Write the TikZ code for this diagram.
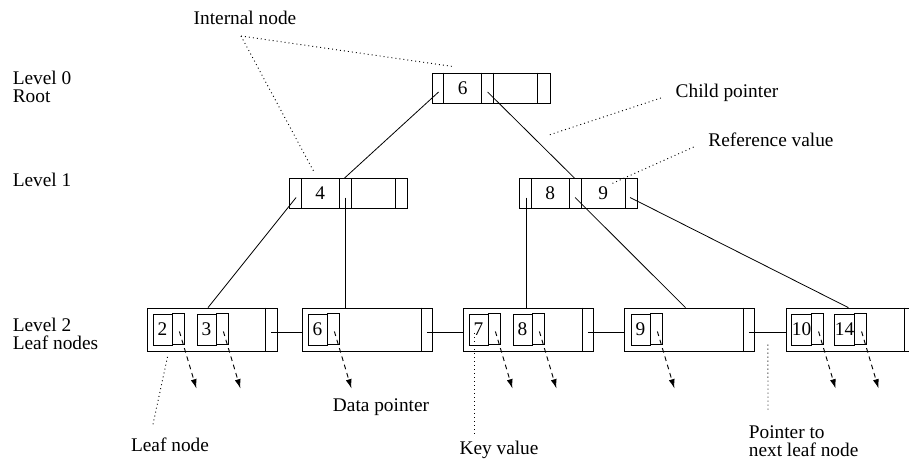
\documentclass[tikz,border=0pt]{standalone}
\usepackage{fontspec}
\setmainfont{Liberation Serif}
\usetikzlibrary{arrows.meta,calc}
\tikzset{
  inbox/.style={draw,minimum width=88.5pt,minimum height=22.5pt,inner sep=0pt},
  leafbox/.style={draw,minimum width=97.5pt,minimum height=32.25pt,inner sep=0pt},
  keybox/.style={draw,minimum width=14.25pt,minimum height=23.25pt,inner sep=0pt},
  note/.style={line width=0.7pt,dash pattern=on 0.7pt off 2.3pt},
  datap/.style={line width=0.7pt,dash pattern=on 3.5pt off 3pt,-{Latex[length=7pt,width=4.5pt]}}
}
\begin{document}
\begin{tikzpicture}[x=0.75pt,y=-0.75pt,line width=0.6pt,every node/.style={font=\fontsize{14.5}{13.5}\selectfont}]
  \useasboundingbox (0,0) rectangle (909,461);

  % level labels
  \node[anchor=west,align=left] (lev0) at (8,87) {Level 0\\Root};
  \node[anchor=west] (lev1) at (8,180) {Level 1};
  \node[anchor=west,align=left] (lev2) at (8,334) {Level 2\\Leaf nodes};

  % internal nodes
  \node[inbox] (root) at (491,88) {};
  \node[inbox] (n4) at (348.5,193.5) {};
  \node[inbox] (n89) at (578.5,193.5) {};
  \foreach \n in {root,n4,n89}{
    \foreach \d in {12,50,62,106}
      \draw ($(\n.north west)+(\d,0)$) -- ($(\n.south west)+(\d,0)$);
    \coordinate (\n-p0) at ($(\n.west)+(7,4)$);
    \coordinate (\n-p1) at ($(\n.west)+(56,4)$);
    \coordinate (\n-p2) at ($(\n.west)+(111,4)$);
  }
  \node (k6i) at ($(root.west)+(31,0)$) {6};
  \node (k4i) at ($(n4.west)+(31,0)$) {4};
  \node (k8i) at ($(n89.west)+(31,0)$) {8};
  \node (k9i) at ($(n89.west)+(84,0)$) {9};

  % leaf nodes
  \node[leafbox] (leaf1) at (212,329.5) {};
  \node[leafbox] (leaf2) at (367.5,329.5) {};
  \node[leafbox] (leaf3) at (528.5,329.5) {};
  \node[leafbox] (leaf4) at (689.5,329.5) {};
  \node[leafbox] (leaf5) at (851,329.5) {};
  \foreach \i in {1,...,5}
    \draw ($(leaf\i.north east)+(-12,0)$) -- ($(leaf\i.south east)+(-12,0)$);
  \foreach \i/\j in {1/2,2/3,3/4,4/5}{
    \coordinate (nx\i) at ($(leaf\i.north east)+(-6,25)$);
    \draw (nx\i) -- (nx\i -| leaf\j.west);
  }

  % keys and data pointers
  \foreach \k/\x in {2/162.5,3/206.5,6/317.5,7/478.5,8/522.5,9/640.5,10/801.5,14/844.5}{
    \node[keybox] (k\k) at (\x,329.5) {\k};
    \draw (k\k.north east) rectangle ++(12,31);
    \coordinate (p\k) at ($(k\k.east)+(7,2)$);
    \coordinate (d\k) at ($(p\k)+(17,57)$);
    \draw[datap] (p\k) -- (d\k);
  }

  % child pointers
  \draw (root-p0) -- ([xshift=-3pt]n4.north);
  \draw (root-p1) -- ([xshift=-3pt]n89.north);
  \draw (n4-p0) -- ([xshift=-3pt]leaf1.north);
  \draw (n4-p1) -- (n4-p1 |- leaf2.north);
  \draw (n89-p0) -- (n89-p0 |- leaf3.north);
  \draw (n89-p1) -- ([xshift=-3pt]leaf4.north);
  \draw (n89-p2) -- ([xshift=-2pt]leaf5.north);

  % notes
  \node (intn) at (245,18) {Internal node};
  \coordinate (intp) at (241,36);
  \draw[note] (intp) -- ($(root.north west)+(22,-6)$);
  \draw[note] (intp) -- ($(n4.north west)+(25,-6)$);

  \node (chp) at (727,93) {Child pointer};
  \coordinate (chpe) at (549,135);
  \draw[note] ($(chp.west)+(-10,5)$) -- (chpe);

  \node (refv) at (771,140) {Reference value};
  \coordinate (refe) at ($(k9i)+(9,-10)$);
  \draw[note] ($(refv.west)+(-10,7)$) -- (refe);

  \node (dpt) at (381,407) {Data pointer};

  \node (lfn) at (170,445) {Leaf node};
  \draw[note] ($(lfn.north)+(-17,-9)$) -- ($(leaf1.south west)+(21,5)$);

  \node (kv) at (499,450) {Key value};
  \coordinate (kvs) at ($(k7.south west)+(6,-12)$);
  \draw[note] (kvs) -- (kvs |- kv.north);

  \node[anchor=west,align=left] (ptn) at (744,441) {Pointer to\\next leaf node};
  \coordinate (ptns) at ($(nx4)+(19,12)$);
  \coordinate (ptne) at (768,412);
  \draw[note] (ptns) -- (ptne);
\end{tikzpicture}
\end{document}
